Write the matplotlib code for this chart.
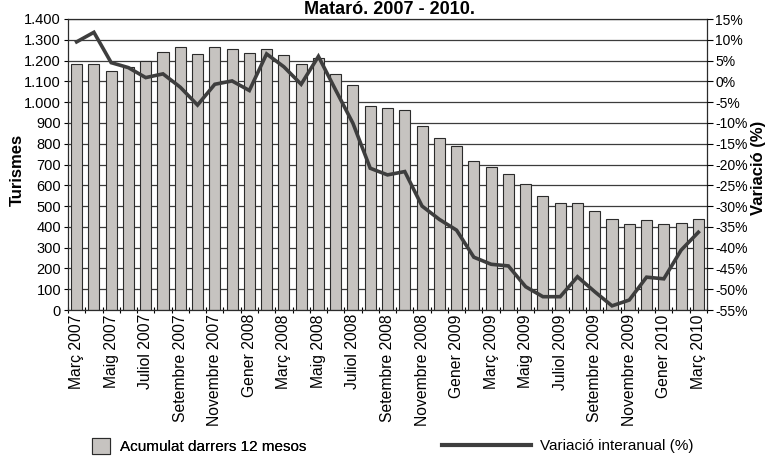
import numpy as np
import matplotlib.pyplot as plt
from matplotlib.patches import Patch
from matplotlib.lines import Line2D

plt.rcParams['font.family'] = ['Liberation Sans', 'DejaVu Sans']

# Mesos (Març 2007 - Març 2010)
noms = ['Gener', 'Febrer', 'Març', 'Abril', 'Maig', 'Juny', 'Juliol', 'Agost',
        'Setembre', 'Octubre', 'Novembre', 'Desembre']
mesos = []
for k in range(37):
    m = (2 + k) % 12
    any_ = 2007 + (2 + k) // 12
    mesos.append(f'{noms[m]} {any_}')

# Turismes, acumulat darrers 12 mesos
acumulat = [1185, 1185, 1150, 1170, 1200, 1240, 1264, 1232, 1264, 1256,
            1238, 1256, 1227, 1182, 1210, 1135, 1081, 981, 970, 962,
            885, 829, 790, 717, 686, 654, 608, 549, 513, 513,
            476, 438, 412, 431, 412, 420, 436]

# Variació interanual (%)
variacio = [9.5, 11.8, 4.5, 3.3, 0.9, 1.8, -1.4, -5.7, -0.7, 0.1,
            -2.2, 6.6, 3.5, -0.7, 6.0, -2.1, -10.1, -20.9, -22.5, -21.7,
            -30.0, -33.2, -35.8, -42.3, -44.0, -44.4, -49.4, -51.8, -51.8, -47.0,
            -50.6, -54.0, -52.6, -47.1, -47.5, -40.6, -36.3]

x = np.arange(len(mesos))

fig = plt.figure(figsize=(7.67, 4.58), dpi=100)
ax = fig.add_axes([68 / 767, 1 - 310 / 458, (707 - 68) / 767, 291 / 458])
ax.set_axisbelow(True)

ax.bar(x, acumulat, width=0.64, color='#c6c3c0', edgecolor='#2b2b2b', linewidth=0.8)
ax.set_xlim(-0.5, len(mesos) - 0.5)
ax.set_ylim(0, 1400)
ax.set_yticks(np.arange(0, 1401, 100))
ax.set_yticklabels([f'{v:,}'.replace(',', '.') for v in range(0, 1401, 100)], fontsize=10.5)
ax.grid(axis='y', color='#3c3c3c', linewidth=0.9)
ax.tick_params(axis='y', direction='out', length=3, width=0.8, pad=2)

ax.set_xticks(x[::2])
ax.set_xticklabels(mesos[::2], rotation=90, fontsize=11.3)
ax.set_xticks(np.arange(-0.5, len(mesos), 1), minor=True)
ax.tick_params(axis='x', which='major', length=0, pad=3)
ax.tick_params(axis='x', which='minor', direction='inout', length=5, width=0.8)
for s in ax.spines.values():
    s.set_color('#2b2b2b')
    s.set_linewidth(0.9)

fig.text(17.5 / 767, 1 - 170 / 458, 'Turismes', rotation=90, ha='center', va='center',
         fontsize=12, fontweight='bold')

ax2 = ax.twinx()
ax2.plot(x, variacio, color='#3e3e3e', linewidth=2.6, solid_joinstyle='miter')
ax2.set_ylim(-55, 15)
ax2.set_yticks(np.arange(-55, 16, 5))
ax2.set_yticklabels([f'{v}%' for v in range(-55, 16, 5)], fontsize=10)
ax2.tick_params(axis='y', direction='out', length=4, width=0.8, pad=2)
for s in ax2.spines.values():
    s.set_visible(False)

fig.text(758 / 767, 1 - 168 / 458, 'Variació (%)', rotation=90, ha='center', va='center',
         fontsize=12, fontweight='bold')

fig.text(390 / 767, 1 - 1 / 458, 'Mataró. 2007 - 2010.', ha='center', va='top',
         fontsize=13, fontweight='bold')

leg1 = fig.legend(handles=[Patch(facecolor='#c6c3c0', edgecolor='#2b2b2b', linewidth=0.8)],
                  labels=['Acumulat darrers 12 mesos'], loc='center left',
                  bbox_to_anchor=(92 / 767, 1 - 446 / 458), frameon=False, fontsize=11,
                  handlelength=1.2, handleheight=1.2, handletextpad=0.6,
                  borderpad=0, borderaxespad=0)
leg2 = fig.legend(handles=[Line2D([0], [0], color='#3e3e3e', linewidth=3)],
                  labels=['Variació interanual (%)'], loc='center left',
                  bbox_to_anchor=(442 / 767, 1 - 446 / 458), frameon=False, fontsize=11,
                  handlelength=5.8, handletextpad=0.6, borderpad=0, borderaxespad=0)
fig.add_artist(leg1)

fig.savefig('out.png', dpi=100)
